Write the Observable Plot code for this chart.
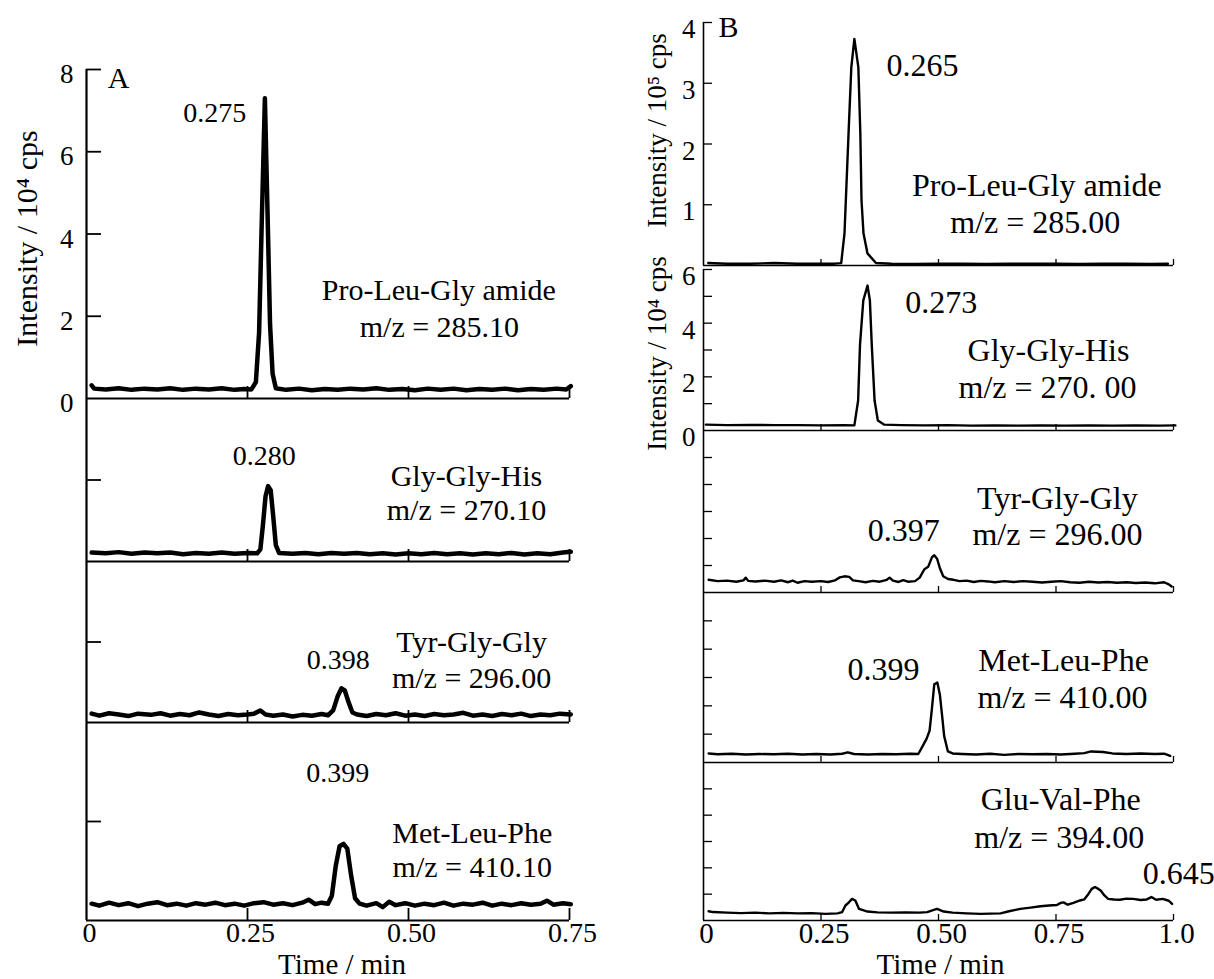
<!DOCTYPE html>
<html><head><meta charset="utf-8">
<script src="https://cdn.jsdelivr.net/npm/d3@7"></script>
<script src="https://cdn.jsdelivr.net/npm/@observablehq/plot@0.6"></script>
<style>
html,body{margin:0;padding:0;background:#fff;}
#fig{position:relative;width:1214px;height:979px;overflow:hidden;background:#fff;font-family:"Liberation Serif","Times New Roman",serif;}
#fig svg{position:absolute;font-family:"Liberation Serif","Times New Roman",serif;}
#fig svg text{font-family:"Liberation Serif","Times New Roman",serif;}
</style></head><body><div id="fig"></div>
<script>
// ---------- DATA (time / min, intensity in panel units) ----------
// Panel A (x axis 0–0.75 min)
const aProLeuGly = [[0.008,0.32],[0.012,0.24],[0.03,0.22],[0.05,0.25],[0.07,0.21],[0.09,0.24],[0.11,0.22],[0.13,0.25],[0.15,0.21],[0.17,0.24],[0.19,0.22],[0.21,0.25],[0.23,0.21],[0.245,0.23],[0.256,0.22],[0.263,0.4],[0.268,1.6],[0.272,4.2],[0.277,7.3],[0.281,4.6],[0.285,1.8],[0.289,0.6],[0.294,0.25],[0.31,0.21],[0.33,0.24],[0.35,0.2],[0.37,0.23],[0.39,0.21],[0.41,0.24],[0.43,0.22],[0.45,0.25],[0.47,0.21],[0.49,0.23],[0.51,0.2],[0.53,0.24],[0.55,0.21],[0.57,0.24],[0.59,0.2],[0.61,0.23],[0.63,0.21],[0.65,0.24],[0.67,0.2],[0.69,0.23],[0.71,0.21],[0.73,0.24],[0.745,0.22],[0.752,0.3]];
const aGlyGlyHis = [[0.008,0.22],[0.03,0.2],[0.05,0.23],[0.07,0.19],[0.09,0.22],[0.11,0.2],[0.13,0.22],[0.15,0.18],[0.17,0.21],[0.19,0.19],[0.21,0.22],[0.23,0.19],[0.25,0.21],[0.265,0.2],[0.27,0.3],[0.274,0.9],[0.278,1.6],[0.282,1.85],[0.286,1.75],[0.29,1.1],[0.294,0.4],[0.299,0.21],[0.32,0.19],[0.34,0.21],[0.36,0.18],[0.38,0.21],[0.4,0.19],[0.42,0.21],[0.44,0.18],[0.46,0.2],[0.48,0.17],[0.5,0.2],[0.52,0.18],[0.54,0.21],[0.56,0.18],[0.58,0.2],[0.6,0.17],[0.62,0.2],[0.64,0.18],[0.66,0.21],[0.68,0.17],[0.7,0.2],[0.72,0.18],[0.74,0.22],[0.752,0.24]];
const aTyrGlyGly = [[0.008,0.22],[0.02,0.17],[0.035,0.23],[0.05,0.2],[0.065,0.16],[0.08,0.22],[0.1,0.19],[0.115,0.23],[0.13,0.17],[0.145,0.21],[0.16,0.18],[0.175,0.25],[0.19,0.2],[0.205,0.16],[0.22,0.21],[0.235,0.18],[0.25,0.2],[0.26,0.22],[0.27,0.3],[0.278,0.2],[0.29,0.17],[0.305,0.2],[0.32,0.15],[0.335,0.19],[0.35,0.17],[0.365,0.21],[0.375,0.18],[0.383,0.3],[0.39,0.65],[0.396,0.85],[0.401,0.8],[0.407,0.5],[0.413,0.25],[0.42,0.2],[0.435,0.16],[0.45,0.21],[0.465,0.18],[0.48,0.23],[0.495,0.17],[0.51,0.2],[0.525,0.16],[0.54,0.21],[0.555,0.18],[0.57,0.2],[0.585,0.24],[0.6,0.17],[0.615,0.2],[0.63,0.16],[0.645,0.21],[0.66,0.18],[0.675,0.22],[0.69,0.16],[0.705,0.2],[0.72,0.18],[0.735,0.22],[0.752,0.2]];
const aMetLeuPhe = [[0.008,0.34],[0.02,0.3],[0.035,0.36],[0.05,0.31],[0.065,0.35],[0.08,0.29],[0.095,0.34],[0.11,0.37],[0.125,0.31],[0.14,0.34],[0.155,0.3],[0.17,0.35],[0.185,0.32],[0.2,0.36],[0.215,0.31],[0.23,0.34],[0.245,0.3],[0.26,0.35],[0.275,0.37],[0.29,0.32],[0.305,0.35],[0.32,0.31],[0.335,0.36],[0.345,0.42],[0.355,0.33],[0.365,0.36],[0.375,0.34],[0.381,0.5],[0.387,1.1],[0.393,1.5],[0.399,1.55],[0.405,1.45],[0.411,0.9],[0.417,0.45],[0.424,0.34],[0.435,0.3],[0.45,0.35],[0.46,0.27],[0.47,0.38],[0.48,0.31],[0.495,0.35],[0.51,0.3],[0.525,0.34],[0.54,0.31],[0.555,0.36],[0.57,0.3],[0.585,0.34],[0.6,0.32],[0.615,0.36],[0.63,0.3],[0.645,0.34],[0.66,0.31],[0.675,0.35],[0.69,0.32],[0.705,0.34],[0.715,0.4],[0.725,0.32],[0.74,0.35],[0.752,0.33]];
// Panel B (x axis 0–1.0 min)
const bProLeuGly = [[0.01,0.04],[0.05,0.03],[0.1,0.03],[0.15,0.04],[0.2,0.03],[0.25,0.03],[0.28,0.03],[0.293,0.04],[0.3,0.53],[0.3086,2.17],[0.3145,3.26],[0.321,3.73],[0.3295,3.26],[0.3337,2.17],[0.3362,1.07],[0.3404,0.53],[0.3488,0.2],[0.367,0.04],[0.4,0.03],[0.45,0.025],[0.5,0.03],[0.55,0.03],[0.6,0.025],[0.65,0.03],[0.7,0.03],[0.75,0.03],[0.8,0.025],[0.85,0.03],[0.9,0.03],[0.95,0.025],[0.988,0.03]];
const bGlyGlyHis = [[0.005,0.22],[0.05,0.2],[0.1,0.21],[0.15,0.2],[0.2,0.2],[0.25,0.19],[0.3,0.2],[0.321,0.19],[0.329,1.12],[0.333,3.2],[0.34,4.85],[0.349,5.4],[0.354,4.85],[0.358,3.2],[0.364,1.12],[0.371,0.37],[0.384,0.22],[0.42,0.2],[0.47,0.19],[0.52,0.2],[0.57,0.18],[0.62,0.19],[0.67,0.18],[0.72,0.19],[0.77,0.18],[0.82,0.19],[0.87,0.18],[0.92,0.19],[0.97,0.18],[1.004,0.19]];
const bTyrGlyGly = [[0.011,0.47],[0.03,0.42],[0.05,0.44],[0.07,0.4],[0.085,0.45],[0.09,0.55],[0.095,0.43],[0.11,0.41],[0.13,0.44],[0.15,0.4],[0.165,0.45],[0.18,0.38],[0.19,0.44],[0.2,0.36],[0.215,0.42],[0.23,0.4],[0.25,0.42],[0.265,0.39],[0.28,0.45],[0.29,0.56],[0.3,0.6],[0.31,0.58],[0.318,0.45],[0.33,0.42],[0.345,0.38],[0.36,0.43],[0.375,0.4],[0.39,0.47],[0.396,0.55],[0.403,0.44],[0.415,0.39],[0.425,0.46],[0.435,0.4],[0.45,0.42],[0.46,0.55],[0.47,0.86],[0.478,0.95],[0.486,1.3],[0.491,1.38],[0.497,1.25],[0.503,0.9],[0.51,0.6],[0.52,0.5],[0.532,0.47],[0.545,0.42],[0.56,0.44],[0.575,0.39],[0.59,0.43],[0.605,0.41],[0.62,0.38],[0.64,0.42],[0.66,0.39],[0.68,0.42],[0.7,0.4],[0.72,0.37],[0.74,0.4],[0.76,0.42],[0.78,0.38],[0.8,0.36],[0.82,0.4],[0.84,0.37],[0.86,0.39],[0.88,0.36],[0.9,0.38],[0.92,0.35],[0.94,0.37],[0.96,0.34],[0.98,0.38],[0.99,0.3],[0.996,0.22]];
const bMetLeuPhe = [[0.011,0.32],[0.03,0.29],[0.06,0.31],[0.09,0.28],[0.12,0.3],[0.15,0.29],[0.18,0.31],[0.21,0.28],[0.24,0.3],[0.27,0.28],[0.295,0.31],[0.307,0.36],[0.32,0.3],[0.35,0.28],[0.38,0.3],[0.41,0.29],[0.44,0.31],[0.457,0.3],[0.466,0.57],[0.475,0.85],[0.481,1.12],[0.486,1.9],[0.491,2.76],[0.4975,2.82],[0.503,2.39],[0.508,1.6],[0.512,0.94],[0.52,0.39],[0.53,0.32],[0.55,0.3],[0.58,0.28],[0.61,0.31],[0.64,0.27],[0.67,0.3],[0.7,0.29],[0.73,0.3],[0.76,0.28],[0.79,0.31],[0.81,0.33],[0.825,0.39],[0.85,0.37],[0.87,0.32],[0.9,0.3],[0.93,0.32],[0.96,0.3],[0.98,0.31],[0.993,0.23]];
const bGluValPhe = [[0.011,0.35],[0.02,0.32],[0.05,0.3],[0.08,0.28],[0.11,0.3],[0.14,0.27],[0.17,0.29],[0.2,0.27],[0.23,0.28],[0.26,0.25],[0.285,0.27],[0.295,0.32],[0.302,0.57],[0.31,0.7],[0.316,0.82],[0.323,0.76],[0.331,0.44],[0.349,0.34],[0.37,0.31],[0.4,0.3],[0.43,0.31],[0.46,0.3],[0.476,0.32],[0.49,0.4],[0.497,0.44],[0.511,0.34],[0.53,0.3],[0.56,0.27],[0.59,0.25],[0.61,0.26],[0.632,0.27],[0.65,0.35],[0.674,0.44],[0.7,0.5],[0.717,0.54],[0.735,0.57],[0.752,0.59],[0.76,0.67],[0.766,0.69],[0.775,0.6],[0.787,0.67],[0.801,0.76],[0.81,0.8],[0.819,1.01],[0.826,1.2],[0.833,1.27],[0.84,1.2],[0.845,1.14],[0.853,0.95],[0.861,0.82],[0.873,0.8],[0.886,0.79],[0.9,0.83],[0.914,0.82],[0.93,0.78],[0.943,0.8],[0.953,0.89],[0.963,0.79],[0.977,0.82],[0.99,0.75],[0.997,0.63]];

// Text content
const compoundsA = ["Pro-Leu-Gly amide", "Gly-Gly-His", "Tyr-Gly-Gly", "Met-Leu-Phe"];
const mzA = ["m/z = 285.10", "m/z = 270.10", "m/z = 296.00", "m/z = 410.10"];
const peaksA = ["0.275", "0.280", "0.398", "0.399"];
const compoundsB = ["Pro-Leu-Gly amide", "Gly-Gly-His", "Tyr-Gly-Gly", "Met-Leu-Phe", "Glu-Val-Phe"];
const mzB = ["m/z = 285.00", "m/z = 270. 00", "m/z = 296.00", "m/z = 410.00", "m/z = 394.00"];
const peaksB = ["0.265", "0.273", "0.397", "0.399", "0.645"];
const xTicksA = [0, 0.25, 0.5, 0.75];
const xTickLabelsA = ["0", "0.25", "0.50", "0.75"];
const xTicksB = [0, 0.25, 0.5, 0.75, 1.0];
const xTickLabelsB = ["0", "0.25", "0.50", "0.75", "1.0"];
const yTitleA = "Intensity / 10\u2074 cps";
const yTitleB1 = "Intensity / 10\u2075 cps";
const yTitleB2 = "Intensity / 10\u2074 cps";
const xTitle = "Time / min";

// ---------- DRAWING ----------
const FONT = '"Liberation Serif","Times New Roman",serif';
const fig = document.getElementById("fig");

function subplot(o) {
  const mL = 100, mR = 70, mT = 40, mB = 70;
  const [x0, y0, x1, y1] = o.frame;
  const w = x1 - x0, h = y1 - y0;
  const pts = o.data.map(([t, v]) => ({t, v}));
  const marks = [
    Plot.ruleX([o.xDomain[0]], {stroke: "black", strokeWidth: o.axisW}),
    Plot.ruleY([o.yDomain[0]], {stroke: "black", strokeWidth: o.axisW}),
    Plot.axisY({ticks: o.yTicks, tickSize: -o.tickY, tickFormat: () => "", label: null, strokeWidth: o.tickW}),
    Plot.axisX({ticks: o.xTicks.filter(d => d > 0), tickSize: -o.tickX, tickFormat: () => "", label: null, strokeWidth: o.tickW}),
    Plot.line(pts, {x: "t", y: "v", stroke: "black", strokeWidth: o.lineW, strokeLinejoin: "round", strokeLinecap: "round"})
  ];
  if (o.yLabels) marks.push(Plot.axisY({ticks: o.yLabels, tickSize: 0, tickPadding: o.padY, fontSize: o.yFont, fontFamily: FONT, dy: o.yDy, label: null, tickFormat: d => String(d)}));
  if (o.xLabels) {
    marks.push(Plot.axisX({ticks: o.xTicks, tickSize: 0, tickPadding: 2, fontSize: o.xFont, fontFamily: FONT, dx: 3, label: null, tickFormat: d => o.xLabels[o.xTicks.indexOf(d)]}));
    marks.push(Plot.text([xTitle], {frameAnchor: "bottom", dx: o.xTitleDx, dy: 44, textAnchor: "middle", lineAnchor: "middle", fontSize: 29, fontFamily: FONT}));
  }
  for (const yt of (o.yTitles || [])) {
    marks.push(Plot.text([yt.s], {frameAnchor: "left", rotate: -90, dx: yt.dx, dy: yt.dy, textAnchor: "middle", lineAnchor: "middle", fontSize: yt.fs, fontFamily: FONT}));
  }
  for (const a of o.texts) {
    marks.push(Plot.text([a], {x: "x", y: "y", text: "s", fontSize: a.fs, fontFamily: FONT, textAnchor: "middle", lineAnchor: "middle"}));
  }
  const svg = Plot.plot({
    width: w + mL + mR, height: h + mT + mB,
    marginLeft: mL, marginRight: mR, marginTop: mT, marginBottom: mB,
    x: {domain: o.xDomain}, y: {domain: o.yDomain},
    style: {"font-family": FONT, background: "transparent", overflow: "visible", color: "black"},
    marks
  });
  svg.style.position = "absolute";
  svg.style.left = (x0 - mL) + "px";
  svg.style.top = (y0 - mT) + "px";
  svg.style.maxWidth = "none";
  svg.style.fontFamily = FONT;
  fig.appendChild(svg);
}

const A = {xDomain: [0, 0.75], xTicks: xTicksA, lineW: 4.5, axisW: 2.2, tickW: 1.8, tickY: 15, tickX: 12, padY: 13, yFont: 27, yDy: 5, xFont: 28, xTitleDx: 14};
const B = {xDomain: [0, 1.0], xTicks: xTicksB, lineW: 2.4, axisW: 1.6, tickW: 1.3, tickY: 9, tickX: 6, padY: 8, yFont: 27, yDy: 7, xFont: 29, xTitleDx: 2};

// Panel A
subplot({...A, frame: [86, 69, 569, 398], yDomain: [0, 8], data: aProLeuGly, yTicks: [2, 4, 6, 8], yLabels: [0, 2, 4, 6, 8],
  yTitles: [{s: yTitleA, dx: -59, dy: 4.5, fs: 30}],
  texts: [{x: 0.05, y: 7.78, s: "A", fs: 30}, {x: 0.199, y: 6.95, s: peaksA[0], fs: 28},
          {x: 0.547, y: 2.63, s: compoundsA[0], fs: 30}, {x: 0.548, y: 1.73, s: mzA[0], fs: 30}]});
subplot({...A, frame: [86, 398, 569, 561], yDomain: [0, 4], data: aGlyGlyHis, yTicks: [2],
  texts: [{x: 0.276, y: 2.6, s: peaksA[1], fs: 28}, {x: 0.59, y: 2.09, s: compoundsA[1], fs: 30}, {x: 0.59, y: 1.25, s: mzA[1], fs: 30}]});
subplot({...A, frame: [86, 561, 569, 722], yDomain: [0, 4], data: aTyrGlyGly, yTicks: [2],
  texts: [{x: 0.391, y: 1.54, s: peaksA[2], fs: 28}, {x: 0.598, y: 1.99, s: compoundsA[2], fs: 30}, {x: 0.598, y: 1.09, s: mzA[2], fs: 30}]});
subplot({...A, frame: [86, 722, 569, 920], yDomain: [0, 4], data: aMetLeuPhe, yTicks: [2], xLabels: xTickLabelsA,
  texts: [{x: 0.39, y: 2.97, s: peaksA[3], fs: 28}, {x: 0.599, y: 1.76, s: compoundsA[3], fs: 30}, {x: 0.599, y: 1.07, s: mzA[3], fs: 30}]});

// Panel B
subplot({...B, frame: [703, 22, 1173, 265], yDomain: [0, 4], data: bProLeuGly, yTicks: [1, 2, 3, 4], yLabels: [1, 2, 3, 4],
  yTitles: [{s: yTitleB1, dx: -46, dy: -13.5, fs: 27}],
  texts: [{x: 0.053, y: 3.92, s: "B", fs: 30}, {x: 0.466, y: 3.29, s: peaksB[0], fs: 32},
          {x: 0.709, y: 1.32, s: compoundsB[0], fs: 32}, {x: 0.706, y: 0.71, s: mzB[0], fs: 32}]});
subplot({...B, frame: [703, 269, 1173, 430], yDomain: [0, 6], data: bGlyGlyHis, yTicks: [1, 2, 3, 4, 5, 6], yLabels: [0, 2, 4, 6],
  yTitles: [{s: yTitleB2, dx: -46, dy: 3.5, fs: 27}],
  texts: [{x: 0.506, y: 4.77, s: peaksB[1], fs: 32}, {x: 0.734, y: 2.98, s: compoundsB[1], fs: 32}, {x: 0.732, y: 1.6, s: mzB[1], fs: 32}]});
subplot({...B, frame: [703, 430, 1173, 592], yDomain: [0, 6], data: bTyrGlyGly, yTicks: [1, 2, 3, 4, 5],
  texts: [{x: 0.426, y: 2.3, s: peaksB[2], fs: 32}, {x: 0.753, y: 3.48, s: compoundsB[2], fs: 32}, {x: 0.753, y: 2.15, s: mzB[2], fs: 32}]});
subplot({...B, frame: [703, 592, 1173, 762], yDomain: [0, 6], data: bMetLeuPhe, yTicks: [1, 2, 3, 4, 5],
  texts: [{x: 0.383, y: 3.29, s: peaksB[3], fs: 32}, {x: 0.766, y: 3.6, s: compoundsB[3], fs: 32}, {x: 0.764, y: 2.29, s: mzB[3], fs: 32}]});
subplot({...B, frame: [703, 762, 1173, 920], yDomain: [0, 6], data: bGluValPhe, yTicks: [1, 2, 3, 4, 5], xLabels: xTickLabelsB,
  texts: [{x: 0.76, y: 4.6, s: compoundsB[4], fs: 32}, {x: 0.757, y: 3.15, s: mzB[4], fs: 32}, {x: 1.011, y: 1.78, s: peaksB[4], fs: 32}]});
</script>
</body></html>
